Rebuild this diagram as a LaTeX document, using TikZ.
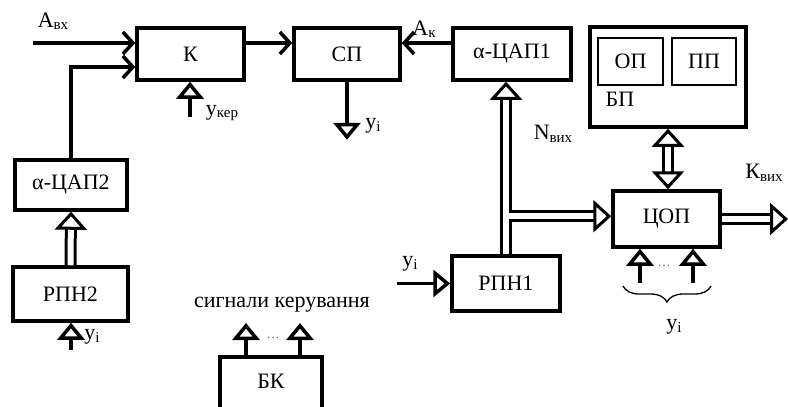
\documentclass[tikz,border=0pt]{standalone}
\usepackage{fontspec}
\setmainfont{Liberation Serif}
\usetikzlibrary{arrows.meta,positioning,calc,decorations.pathreplacing}
\newcommand{\fbig}{\fontsize{22}{26}\selectfont}
\newcommand{\sig}[2]{#1\raisebox{-2.5pt}{\fontsize{15}{17}\selectfont #2}}
\tikzset{
  blk/.style={draw,line width=3.5pt,minimum width=107pt,minimum height=52pt,inner sep=0pt,font=\fbig},
  subblk/.style={draw,line width=1.2pt,minimum width=65pt,minimum height=47pt,inner sep=0pt,font=\fbig},
  lbl/.style={inner sep=0pt,font=\fbig},
  dots/.style={inner sep=0pt,font=\fontsize{13}{15}\selectfont,text=black!60},
  barb/.style={line width=3.5pt,-{Straight Barb[length=10pt,width=22pt]}},
  inp/.style={line width=3.5pt,-{Triangle[length=17pt,width=27pt,fill=white]}},
  bus/.style={line width=3pt,double distance=6pt,-{Triangle[length=18pt,width=32pt,fill=white]}},
  brc/.style={decorate,decoration={brace,mirror,amplitude=16pt},line width=1.3pt}
}
\begin{document}
\begin{tikzpicture}[x=1pt,y=-1pt]
\useasboundingbox (0,0) rectangle (788,407);
% blocks
\node[blk] (k) at (190.5,54) {К};
\node[blk,minimum width=106pt] (sp) at (347,54) {СП};
\node[blk,minimum width=118pt] (dac1) at (512,54) {α-ЦАП1};
\node[blk,minimum width=156pt,minimum height=100pt] (bp) at (668,77) {};
\node[subblk] (op) at (630.5,61.5) {ОП};
\node[subblk,minimum width=64pt] (pp) at (704,61.5) {ПП};
\node[lbl] (bpl) at (620,99) {БП};
\node[blk,minimum height=56pt] (cop) at (666.5,219) {ЦОП};
\node[blk,minimum width=108pt,minimum height=55pt] (rpn1) at (506,283.5) {РПН1};
\node[blk,minimum width=112pt,minimum height=50pt] (dac2) at (71,185) {α-ЦАП2};
\node[blk,minimum width=115pt,minimum height=54pt] (rpn2) at (70.5,294) {РПН2};
\node[blk,minimum width=102pt,minimum height=62pt,text depth=14pt] (bk) at (271,388) {БК};
% free ends
\coordinate (ain) at (33,43);
\coordinate (ukr) at (190,117);
\coordinate (ysp) at ($(sp.south)+(0,58)$);
\coordinate (yr1) at (397,283.5);
\coordinate (yr2) at (71,350);
\coordinate (nj) at ($(rpn1.north)+(3,-38)$);
\coordinate (kout) at (788,219);
\coordinate (c1) at (640,283);
\coordinate (c2) at (693,283);
\coordinate (s1) at (246,323);
\coordinate (s2) at (300,323);
\coordinate (br1) at (623,286);
\coordinate (br2) at (711,286);
% signal lines
\draw[barb] (ain) -- (ain -| k.west);
\draw[barb] (dac2.north) |- ($(k.west)+(0,13)$);
\draw[barb] (ain -| k.east) -- (ain -| sp.west);
\draw[barb] (ain -| dac1.west) -- (ain -| sp.east);
\draw[inp] (ukr) -- (ukr |- k.south);
\draw[inp] (sp.south) -- (ysp);
\draw[inp] (yr1) -- (rpn1.west);
\draw[inp] (yr2) -- (yr2 |- rpn2.south);
\draw[inp] (c1) -- (c1 |- cop.south);
\draw[inp] (c2) -- (c2 |- cop.south);
\draw[inp] (s1 |- bk.north) -- (s1);
\draw[inp] (s2 |- bk.north) -- (s2);
% buses
\draw[bus] (rpn2.north) -- (dac2.south);
\draw[bus] (rpn1.north) -- (rpn1.north |- dac1.south);
\draw[bus,line cap=butt] (nj) -- (nj -| cop.west);
\draw[bus,{Triangle[length=18pt,width=32pt,fill=white]}-{Triangle[length=18pt,width=32pt,fill=white]}] (bp.south) -- (bp.south |- cop.north);
\draw[bus] (cop.east) -- (kout);
\draw[brc] (br1) -- (br2);
% labels
\node[lbl] (lain) at (53,21) {\sig{А}{вх}};
\node[lbl] (lukr) at (222,113) {\sig{у}{кер}};
\node[lbl] (lysp) at (373,126) {\sig{у}{i}};
\node[lbl] (lak) at (424,29) {\sig{А}{к}};
\node[lbl] (lnv) at (553,134) {\sig{N}{вих}};
\node[lbl] (lkv) at (764,173) {\sig{К}{вих}};
\node[lbl] (lyr1) at (410,264) {\sig{у}{i}};
\node[lbl] (lyr2) at (92,337) {\sig{у}{i}};
\node[lbl] (lbr) at (674,327) {\sig{у}{i}};
\node[lbl] (lsig) at (282,305) {сигнали керування};
\node[dots] (d1) at (664,266) {\dots};
\node[dots] (d2) at (273,338) {\dots};
\end{tikzpicture}
\end{document}
